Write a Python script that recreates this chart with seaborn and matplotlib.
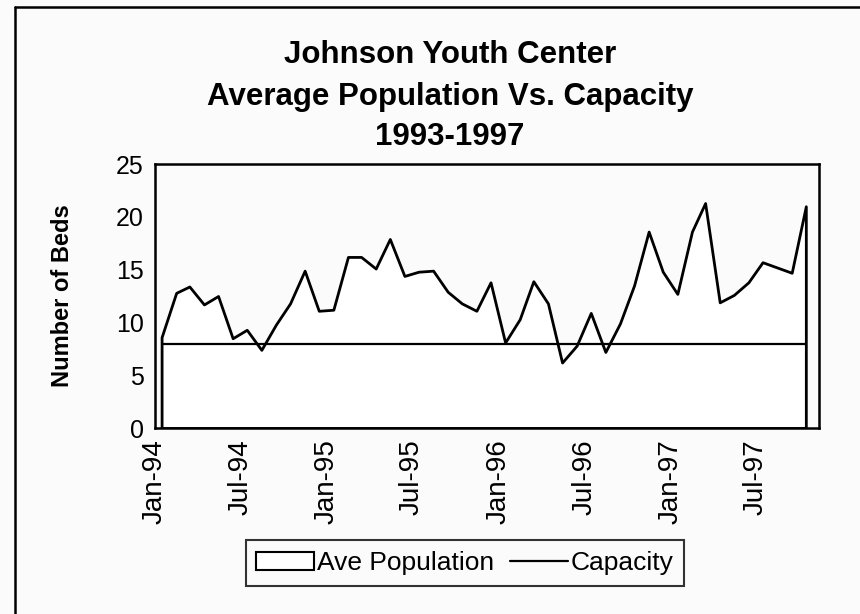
import pandas as pd
import matplotlib
matplotlib.use('Agg')
import matplotlib.pyplot as plt
import matplotlib.dates as mdates
from matplotlib.patches import Patch
from matplotlib.lines import Line2D
import seaborn as sns

# monthly averages, Jan-94 .. Oct-97
months = pd.date_range('1994-01-01', '1997-10-01', freq='MS') + pd.Timedelta(days=14)
ave_population = [8.6, 12.8, 13.4, 11.7, 12.5, 8.5, 9.3, 7.4, 9.8, 11.8,
                  14.9, 11.1, 11.2, 16.2, 16.2, 15.1, 17.9, 14.4, 14.8, 14.9,
                  12.9, 11.8, 11.1, 13.8, 8.1, 10.3, 13.9, 11.8, 6.2, 7.8,
                  10.9, 7.2, 9.9, 13.5, 18.6, 14.8, 12.7, 18.6, 21.3, 11.9,
                  12.6, 13.8, 15.7, 15.2, 14.7, 21.0]
capacity = [8] * len(ave_population)
y_ticks = [0, 5, 10, 15, 20, 25]

df = pd.DataFrame({'month': months, 'Ave Population': ave_population,
                   'Capacity': capacity})

sns.set_theme(style='white')
plt.rcParams['font.family'] = ['Liberation Sans', 'DejaVu Sans']
plt.rcParams['text.color'] = 'black'
plt.rcParams['axes.labelcolor'] = 'black'

bg = '#fbfbfb'
fig = plt.figure(figsize=(8.6, 6.14), dpi=100, facecolor=bg)
ax = fig.add_axes([155 / 860, 1 - 428 / 614, (819 - 155) / 860, (428 - 164) / 614])
ax.set_facecolor(bg)

# area for population (white fill, black outline)
ax.fill_between(df['month'], df['Ave Population'], 0, facecolor='white',
                edgecolor='black', linewidth=2.0, zorder=2)
sns.lineplot(data=df, x='month', y='Capacity', ax=ax, color='black',
             linewidth=1.6, zorder=3)

ax.set_ylim(0, 25)
ax.set_yticks(y_ticks)
ax.set_xlim(pd.Timestamp('1994-01-01'), pd.Timestamp('1997-11-12'))
ax.xaxis.set_major_locator(mdates.MonthLocator(bymonth=[1, 7]))
ax.xaxis.set_major_formatter(mdates.DateFormatter('%b-%y'))
plt.setp(ax.get_xticklabels(), rotation=90)

ax.tick_params(axis='x', direction='inout', length=8, width=1, colors='black',
               labelsize=20, pad=4)
ax.tick_params(axis='y', direction='out', length=4, width=1, colors='black',
               labelsize=18, pad=4)
ax.set_xlabel('')
ax.set_ylabel('Number of Beds', fontsize=17, fontweight='bold', labelpad=30)

for s in ax.spines.values():
    s.set_color('black')
    s.set_linewidth(1.8)

# title
fig.text(450 / 860, 1 - 55 / 614, 'Johnson Youth Center', ha='center',
         va='center', fontsize=22.5, fontweight='bold')
fig.text(450 / 860, 1 - 97 / 614, 'Average Population Vs. Capacity',
         ha='center', va='center', fontsize=22.5, fontweight='bold')
fig.text(450 / 860, 1 - 137 / 614, '1993-1997', ha='center', va='center',
         fontsize=22.5, fontweight='bold')

# legend
handles = [Patch(facecolor='white', edgecolor='black', linewidth=1.5),
           Line2D([0], [0], color='black', linewidth=1.6)]
leg = fig.legend(handles, ['Ave Population', 'Capacity'], loc='center',
                 bbox_to_anchor=(465 / 860, 1 - 563 / 614), ncol=2,
                 fontsize=19, fancybox=False, frameon=True, handlelength=2.2,
                 handletextpad=0.1, columnspacing=0.6, borderpad=0.4,
                 borderaxespad=0)
leg.get_frame().set_edgecolor('black')
leg.get_frame().set_linewidth(1.5)
leg.get_frame().set_facecolor(bg)

# outer frame of the scanned chart (top and left edges)
fig.add_artist(Line2D([15 / 860, 1], [1 - 7 / 614, 1 - 7 / 614],
                      color='black', linewidth=1.8, transform=fig.transFigure))
fig.add_artist(Line2D([15 / 860, 15 / 860], [0, 1 - 7 / 614],
                      color='black', linewidth=1.8, transform=fig.transFigure))

fig.savefig('out.png', dpi=100, facecolor=bg)
